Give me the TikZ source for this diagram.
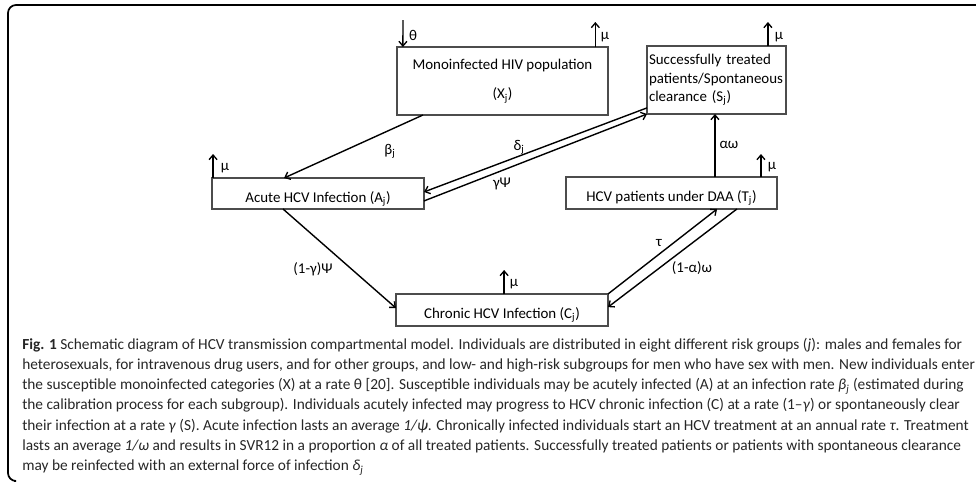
\documentclass[tikz,border=0pt]{standalone}
\usepackage{fontspec}
\setmainfont{Carlito}
\usetikzlibrary{arrows.meta,calc}
\begin{document}
\begin{tikzpicture}[x=0.75pt,y=-0.75pt,
  box/.style={draw=black!70, line width=0.8pt, inner sep=0pt, outer sep=0pt, font=\fontsize{11.2}{13.5}\selectfont},
  flow/.style={line width=1.05pt, -{Straight Barb[length=3.5pt,width=6pt,line width=1pt]}},
  lbl/.style={inner sep=0pt, font=\fontsize{11.2}{13}\selectfont},
  capline/.style={anchor=base west, inner sep=0pt, text=black!85, font=\fontsize{11.52}{13}\selectfont}]
\useasboundingbox (0,0) rectangle (976,483);
% frame
\draw[line width=1.3pt, rounded corners=6] (976,5) -- (8,5) -- (8,481) -- (14,481);
% boxes
\node[box, minimum width=211*0.75pt, minimum height=68*0.75pt, align=center] (X) at (502.5,81)
  {Monoinfected HIV population\\[8.5pt](X\textsubscript{j})};
\node[box, minimum width=139*0.75pt, minimum height=68*0.75pt, text width=135*0.75pt, align=left,
  font=\fontsize{11.2}{13.9}\selectfont] (S) at (716.5,80)
  {Successfully treated\\patients/Spontaneous\\clearance (S\textsubscript{j})};
\node[box, minimum width=212*0.75pt, minimum height=31*0.75pt] (A) at (318,193.5)
  {\raisebox{-4pt}[\height][\depth]{Acute HCV Infection (A\textsubscript{j})}};
\node[box, minimum width=211*0.75pt, minimum height=32*0.75pt] (T) at (671.5,193)
  {\raisebox{-4pt}[\height][\depth]{HCV patients under DAA (T\textsubscript{j})}};
\node[box, minimum width=212*0.75pt, minimum height=32*0.75pt] (C) at (502,310)
  {\raisebox{-4pt}[\height][\depth]{Chronic HCV Infection (C\textsubscript{j})}};
% inflow and outflows
\coordinate (thetaIn) at (403,20);
\draw[flow] (thetaIn) -- ($(X.north west)!0.028!(X.north east)$);
\draw[flow] ($(X.north west)!0.94!(X.north east)$) -- ++(0,-25);
\draw[flow] ($(S.north west)!0.87!(S.north east)$) -- ++(0,-24);
\draw[flow] ($(A.north west)!0.005!(A.north east)$) -- ++(0,-24);
\draw[flow] ($(T.north west)!0.924!(T.north east)$) -- ++(0,-23);
\draw[flow] ($(C.north west)!0.51!(C.north east)$) -- ++(0,-24);
% transitions
\draw[flow] ($(X.south west)!0.123!(X.south east)$) -- ($(A.north west)!0.34!(A.north east)$);
\draw[flow] ($(S.north west)!0.91!(S.south west)$) -- ($(A.north east)!0.45!(A.south east)$);
\draw[flow] ($(A.north east)!0.74!(A.south east)$) -- (S.south west);
\coordinate (Ttop) at ($(T.north west)!0.706!(T.north east)$);
\draw[flow] (Ttop) -- (Ttop |- S.south);
\draw[flow] ($(A.south west)!0.335!(A.south east)$) -- ($(C.north west)!0.44!(C.south west)$);
\draw[flow] (C.north east) -- ($(T.south west)!0.716!(T.south east)$);
\draw[flow] ($(T.south west)!0.81!(T.south east)$) -- ($(C.north east)!0.41!(C.south east)$);
% labels
\node[lbl] (ltheta) at (413,35) {θ};
\node[lbl] (lmuX) at (605,37) {μ};
\node[lbl] (lmuS) at (779,37) {μ};
\node[lbl] (lmuA) at (225,168) {μ};
\node[lbl] (lmuT) at (772,167) {μ};
\node[lbl] (lmuC) at (514,284) {μ};
\node[lbl] (lbeta) at (390,151) {β\textsubscript{j}};
\node[lbl] (ldelta) at (519,147) {δ\textsubscript{j}};
\node[lbl] (lgpsi) at (502,184) {γΨ};
\node[lbl] (laom) at (729,145) {αω};
\node[lbl] (l1gpsi) at (313,269) {(1-γ)Ψ};
\node[lbl] (ltau) at (659,243) {τ};
\node[lbl] (l1aom) at (692,268) {(1-α)ω};
% caption
\node[capline] (c1) at (22,349) {\textbf{Fig. 1} Schematic diagram of HCV transmission compartmental model. Individuals are distributed in eight different risk groups (\textit{j}): males and females for};
\node[capline] (c2) at (22,369.3) {heterosexuals, for intravenous drug users, and for other groups, and low- and high-risk subgroups for men who have sex with men. New individuals enter};
\node[capline] (c3) at (22,389.6) {the susceptible monoinfected categories (X) at a rate θ [20]. Susceptible individuals may be acutely infected (A) at an infection rate \textit{β}\textsubscript{\textit{j}} (estimated during};
\node[capline] (c4) at (22,409.9) {the calibration process for each subgroup). Individuals acutely infected may progress to HCV chronic infection (C) at a rate (1–\textit{γ}) or spontaneously clear};
\node[capline] (c5) at (22,430.2) {their infection at a rate \textit{γ} (S). Acute infection lasts an average \textit{1/ψ}. Chronically infected individuals start an HCV treatment at an annual rate \textit{τ}. Treatment};
\node[capline] (c6) at (22,450.5) {lasts an average \textit{1/ω} and results in SVR12 in a proportion \textit{α} of all treated patients. Successfully treated patients or patients with spontaneous clearance};
\node[capline] (c7) at (22,470.8) {may be reinfected with an external force of infection \textit{δ}\textsubscript{\textit{j}}};
\end{tikzpicture}
\end{document}
